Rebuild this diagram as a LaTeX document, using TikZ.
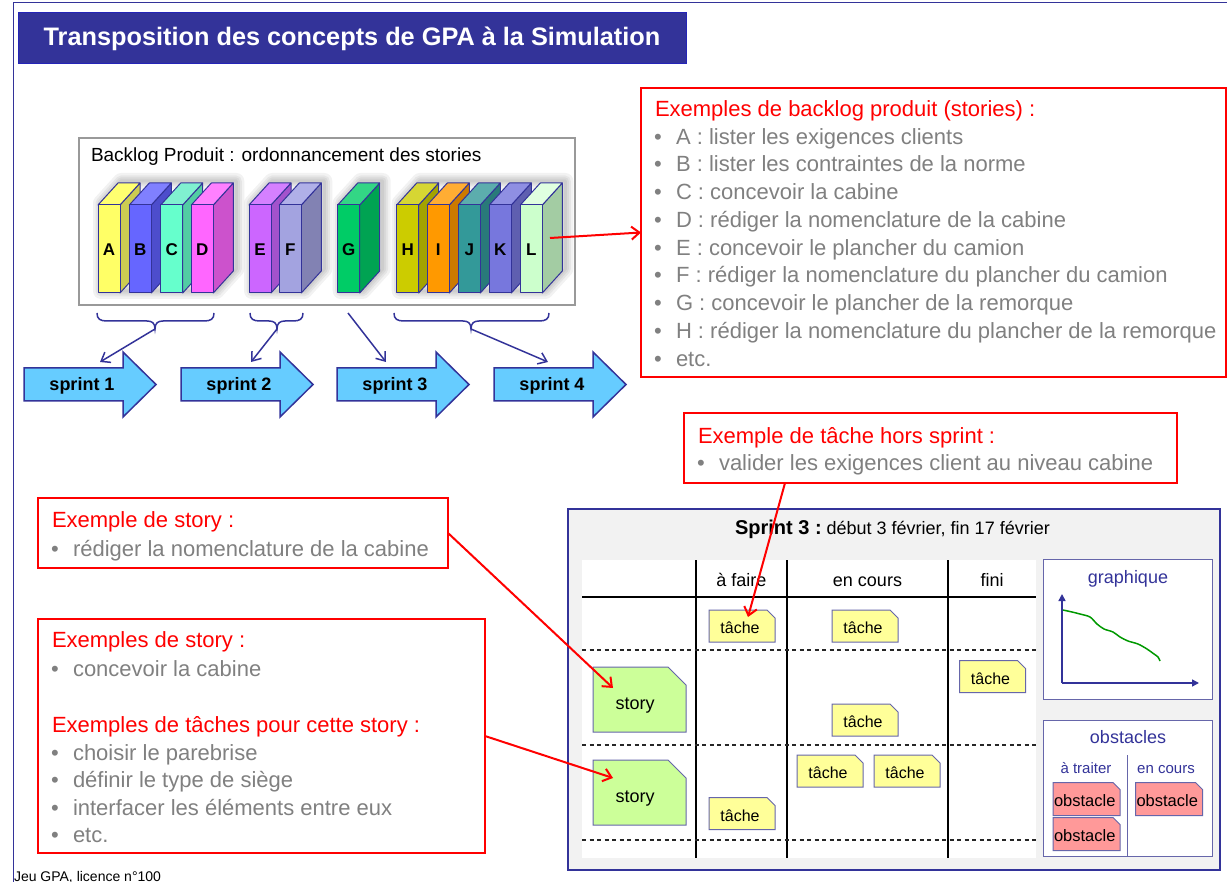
\documentclass[tikz,border=0pt]{standalone}
\usepackage{fontspec}
\setmainfont{Liberation Sans}
\usetikzlibrary{arrows.meta}

\definecolor{navy}{HTML}{333399}
\definecolor{noteline}{HTML}{6666AA}
\definecolor{txtgray}{HTML}{808080}
\definecolor{redline}{HTML}{FF0000}
\definecolor{sprintblue}{HTML}{66CCFF}
\definecolor{tachey}{HTML}{FFFF99}
\definecolor{storyg}{HTML}{CCFF99}
\definecolor{obstr}{HTML}{FF9999}
\definecolor{panelbg}{HTML}{F2F2F2}
\definecolor{curveg}{HTML}{009900}

% font size in pixels (1pt = 1px here)
\newcommand\fsz[1]{\fontsize{#1pt}{#1pt}\selectfont}
% grey bullet followed by the item text
\newcommand\bul{\makebox[22pt][l]{\textcolor{txtgray}{•}}}

% a book: name, left x, front colour, side colour, top colour, letter
\newcommand\book[6]{%
  \definecolor{bkfront}{HTML}{#3}\definecolor{bkside}{HTML}{#4}\definecolor{bktop}{HTML}{#5}%
  \filldraw[fill=bkside, bookline] ({#2+22},205) -- ({#2+42},183) -- ({#2+42},271) -- ({#2+22},293) -- cycle;
  \filldraw[fill=bktop, bookline] (#2,205) -- ({#2+20},183) -- ({#2+42},183) -- ({#2+22},205) -- cycle;
  \filldraw[fill=bkfront, bookline] (#2,205) rectangle ({#2+22},293);
  \node[anchor=base, font=\fsz{17}\bfseries] (#1) at ({#2+11},256) {#6};}

% soft halo behind a group of books: left x of first and last book
\newcommand\bookhalo[2]{%
  \foreach \w in {16,11,7,3}{%
    \draw[black, opacity=0.05, line width=\w pt, line join=round]
      ({#1+3},203) -- ({#1+23},181) -- ({#2+45},181) -- ({#2+45},269) -- ({#2+25},291) -- ({#1+3},291) -- cycle;}}

% curly brace under the backlog: coordinate name, left x, right x, tip x
\newcommand\backbrace[4]{%
  \draw[navy, line width=1.5pt]
    (#2,313) .. controls (#2,319) and ({#2+3},321) .. ({#2+10},321) -- ({#4-8},321)
    .. controls ({#4-3},321) and (#4,323) .. (#4,329)
    .. controls (#4,323) and ({#4+3},321) .. ({#4+8},321) -- ({#3-10},321)
    .. controls ({#3-3},321) and (#3,319) .. (#3,313);
  \coordinate (#1) at (#4,329);}

% sprint arrow: name, left x, label
\newcommand\sprintarrow[3]{%
  \filldraw[fill=sprintblue, draw=navy, line width=1.5pt, line join=miter]
    (#2,368) -- ({#2+99},368) -- ({#2+99},352) -- ({#2+132},384.5) -- ({#2+99},417) -- ({#2+99},401) -- (#2,401) -- cycle;
  \node[anchor=base, font=\fsz{18}\bfseries] (#1) at ({#2+58},391) {#3};}

% note with a cut top-right corner: name, cx, cy, width, height, corner, fill, font size, text
\newcommand\clipnote[9]{%
  \filldraw[fill=#7, draw=noteline, line width=1pt]
    ({#2-#4/2},{#3-#5/2}) -- ({#2+#4/2-#6},{#3-#5/2}) -- ({#2+#4/2},{#3-#5/2+#6})
    -- ({#2+#4/2},{#3+#5/2}) -- ({#2-#4/2},{#3+#5/2}) -- cycle;
  \node[font=\fsz{#8}, text depth=0pt] (#1) at ({#2-#6/4},{#3+#6/4}) {#9};}

\begin{document}
\begin{tikzpicture}[x=1pt, y=-1pt,
  every node/.style={inner sep=0pt, outer sep=0pt},
  bookline/.style={draw=navy, line width=1pt, line join=round},
  redbox/.style={draw=redline, line width=2pt, fill=white, anchor=north west},
  redtitle/.style={text=redline, font=\fsz{22}, anchor=base west},
  grayline/.style={text=txtgray, font=\fsz{22}, anchor=base west},
  redarrow/.style={draw=redline, line width=2pt, -{Straight Barb[length=8pt,width=13pt]}},
  navyarrow/.style={draw=navy, line width=1.5pt, -{Straight Barb[length=8pt,width=12pt]}},
  tableline/.style={black, line width=1.2pt},
  rowdash/.style={black!85, line width=1.3pt, dash pattern=on 4pt off 3.5pt},
  sidebox/.style={draw=noteline, line width=1pt, fill=white, anchor=north west},
  sidetext/.style={text=navy, anchor=base}]
\useasboundingbox (0,0) rectangle (1227,882);

% page frame and title
\draw[navy, line width=1pt] (1227,3) -- (13,3) -- (13,882);
\node[fill=navy, draw=navy!70!blue, line width=1pt, minimum width=668pt, minimum height=51pt,
      anchor=north west, text=white, font=\fsz{25.3}\bfseries] (title) at (18,13)
      {Transposition des concepts de GPA à la Simulation};

% product backlog
\node[draw=black!40, line width=1.5pt, fill=white, minimum width=496pt, minimum height=167pt,
      anchor=north west] (backlog) at (79,138) {};
\node[anchor=base west, font=\fsz{19}] (backlogt) at (91,162) {Backlog Produit : ordonnancement des stories};

\bookhalo{98}{191.3}
\bookhalo{249}{279.3}
\bookhalo{337.7}{337.7}
\bookhalo{396.7}{520.3}

\book{bA}{98}{FFFF66}{CCCC52}{FFFF70}{A}
\book{bB}{129.3}{6666FF}{4D4DCC}{8080FF}{B}
\book{bC}{160.7}{66FFCC}{52CCA3}{80F0D0}{C}
\book{bD}{191.3}{FF66FF}{CC52CC}{FF80FF}{D}
\book{bE}{249}{CC66FF}{A352CC}{D580FF}{E}
\book{bF}{279.3}{A3A3E0}{8282B3}{B0B0E8}{F}
\book{bG}{337.7}{00CC66}{00A352}{33D685}{G}
\book{bH}{396.7}{CCCC00}{A3A300}{D6D633}{H}
\book{bI}{427.3}{FF9900}{CC7A00}{FFAD33}{I}
\book{bJ}{458.3}{339999}{297A7A}{5CADAD}{J}
\book{bK}{489.3}{7777DD}{5F5FB0}{8F8FE3}{K}
\book{bL}{520.3}{CCFFCC}{A3CCA3}{E0FFE0}{L}
\coordinate (Lside) at (550,238);

% braces and sprints
\backbrace{br1}{97}{214}{155}
\backbrace{br2}{250}{303}{277}
\backbrace{br4}{394}{549}{471}
\coordinate (gout) at (348,313);

\sprintarrow{sp1}{24}{sprint 1}
\sprintarrow{sp2}{181}{sprint 2}
\sprintarrow{sp3}{337}{sprint 3}
\sprintarrow{sp4}{494}{sprint 4}

\draw[navyarrow] (br1) -- ([shift={(18,-29)}]sp1.base);
\draw[navyarrow] (br2) -- ([shift={(12,-29)}]sp2.base);
\draw[navyarrow] (gout) -- ([shift={(-9,-29)}]sp3.base);
\draw[navyarrow] (br4) -- ([shift={(-4,-29)}]sp4.base);

% examples of backlog items
\node[redbox, minimum width=585pt, minimum height=289pt] (bx1) at (641,88) {};
\node[redtitle] (bx1t) at (655,116.5) {Exemples de backlog produit (stories) :};
\foreach \t [count=\i] in {A : lister les exigences clients,
    B : lister les contraintes de la norme,
    C : concevoir la cabine,
    D : rédiger la nomenclature de la cabine,
    E : concevoir le plancher du camion,
    F : rédiger la nomenclature du plancher du camion,
    G : concevoir le plancher de la remorque,
    H : rédiger la nomenclature du plancher de la remorque,
    etc.}
  \node[grayline] (bx1l\i) at (654,{116.5+27.75*\i}) {\bul\t};
\draw[redarrow] (Lside) -- (bx1.west);

% sprint 3 board
\node[draw=navy, line width=2pt, fill=panelbg, minimum width=652pt, minimum height=361pt,
      anchor=north west] (board) at (568,509) {};
\node[anchor=base west] (boardt) at (735,535)
  {\fsz{20}\bfseries Sprint 3 :\fsz{18}\mdseries\ début 3 février, fin 17 février};

\node[fill=white, minimum width=454pt, minimum height=298pt, anchor=north west] (table) at (582,560) {};
\draw[tableline] (696,560) -- (696,858);
\draw[tableline] (787,560) -- (787,858);
\draw[tableline] (948,560) -- (948,858);
\draw[tableline] (582,597) -- (1036,597);
\draw[rowdash] (582,650) -- (1036,650);
\draw[rowdash] (582,745) -- (1036,745);
\draw[rowdash] (582,840) -- (1036,840);
\node[anchor=base, font=\fsz{18}] (hd1) at (741.5,586.5) {à faire};
\node[anchor=base, font=\fsz{18}] (hd2) at (867.5,586.5) {en cours};
\node[anchor=base, font=\fsz{18}] (hd3) at (992,586.5) {fini};

\clipnote{t1}{742}{626}{66}{32}{8}{tachey}{16}{tâche}
\clipnote{t2}{865}{626}{66}{32}{8}{tachey}{16}{tâche}
\clipnote{t3}{992.5}{676.5}{66}{32}{8}{tachey}{16}{tâche}
\clipnote{t4}{865}{720}{66}{32}{8}{tachey}{16}{tâche}
\clipnote{t5}{830}{771}{66}{32}{8}{tachey}{16}{tâche}
\clipnote{t6}{907}{771}{66}{32}{8}{tachey}{16}{tâche}
\clipnote{t7}{742}{813.5}{66}{32}{8}{tachey}{16}{tâche}
\clipnote{s1}{639.5}{699.5}{93}{65}{18}{storyg}{18}{story}
\clipnote{s2}{639.5}{792.5}{93}{65}{18}{storyg}{18}{story}

% burndown chart
\node[sidebox, minimum width=169pt, minimum height=140pt] (graph) at (1043,559) {};
\node[sidetext, font=\fsz{18}] (grapht) at (1128,583) {graphique};
\coordinate (gorig) at (1062,683);
\draw[navy, line width=1.5pt, -{Triangle[length=7pt,width=7pt]}] (gorig) -- (1062,594);
\draw[navy, line width=1.5pt, -{Triangle[length=7pt,width=7pt]}] (gorig) -- (1199,683);
\draw[curveg, line width=1.5pt] plot[smooth] coordinates {(1063,610) (1072,612) (1080,614) (1090,617)
  (1097,624) (1104,629) (1113,632) (1120,637) (1128,641) (1138,644) (1147,649) (1154,654) (1158,657) (1160,661)};

% impediments
\node[sidebox, minimum width=169pt, minimum height=136pt] (obs) at (1043,720) {};
\node[sidetext, font=\fsz{18}] (obst) at (1128,743) {obstacles};
\draw[noteline, line width=1pt] (obs.south) -- ++(0,-101);
\node[sidetext, font=\fsz{15}] (obs1) at (1086,773) {à traiter};
\node[sidetext, font=\fsz{15}] (obs2) at (1166,773) {en cours};
\clipnote{o1}{1086.5}{799}{67}{33}{7}{obstr}{16.5}{obstacle}
\clipnote{o2}{1086.5}{834}{67}{33}{7}{obstr}{16.5}{obstacle}
\clipnote{o3}{1169}{799}{67}{33}{7}{obstr}{16.5}{obstacle}

% task outside any story
\node[redbox, minimum width=493pt, minimum height=70pt] (bx3) at (684,413) {};
\node[redtitle] (bx3t) at (698,444) {Exemple de tâche hors sprint :};
\node[grayline] (bx3l) at (697,471) {\bul valider les exigences client au niveau cabine};
\draw[redarrow] ([xshift=101pt]bx3.south west) -- ([shift={(8,-11)}]t1.center);

% story examples
\node[redbox, minimum width=410pt, minimum height=70pt] (bx4) at (38,498) {};
\node[redtitle] (bx4t) at (52,527.5) {Exemple de story :};
\node[grayline] (bx4l) at (51,556) {\bul rédiger la nomenclature de la cabine};
\draw[redarrow] (bx4.east) -- ([shift={(-22,-16)}]s1.center);

\node[redbox, minimum width=447pt, minimum height=234pt] (bx5) at (38,619) {};
\node[redtitle] (bx5t) at (52,647.5) {Exemples de story :};
\node[grayline] (bx5l) at (51,676) {\bul concevoir la cabine};
\node[redtitle] (bx5s) at (52,732.5) {Exemples de tâches pour cette story :};
\foreach \t [count=\i] in {choisir le parebrise, définir le type de siège,
    interfacer les éléments entre eux, etc.}
  \node[grayline] (bx5l\i) at (51,{732.5+27.6*\i}) {\bul\t};
\draw[redarrow] (bx5.east) -- ([shift={(-22,-19)}]s2.center);

% footer
\node[anchor=base west, font=\fsz{14}] (footer) at (14,881) {Jeu GPA, licence n°100};
\end{tikzpicture}
\end{document}
